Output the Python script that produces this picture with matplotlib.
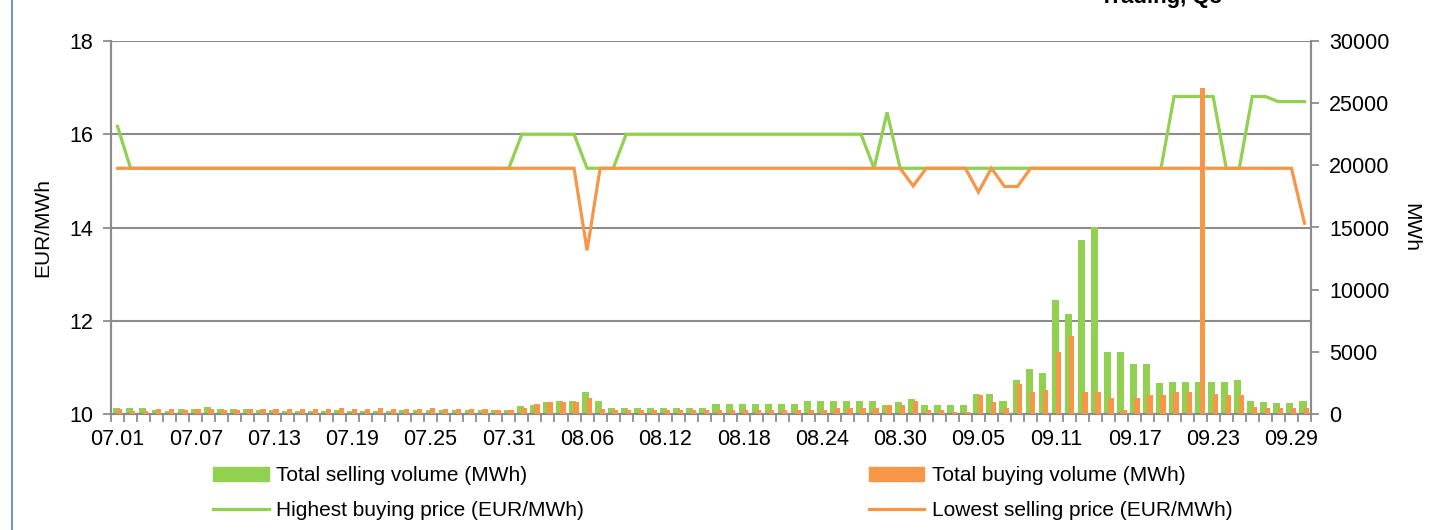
import numpy as np
import matplotlib
matplotlib.use("Agg")
import matplotlib.pyplot as plt
from matplotlib.lines import Line2D
import datetime as dt

plt.rcParams['font.family'] = ['Liberation Sans', 'DejaVu Sans']

# ---- data ----
start = dt.date(2013, 7, 1)
dates = [(start + dt.timedelta(days=i)).strftime("%m.%d") for i in range(92)]

highest_buying_price = [16.17] + [15.27] * 30 + [16.0] * 5 + [15.27] * 3 + [16.0] * 19 + \
    [15.27, 16.47] + [15.27] * 21 + [16.81] * 4 + [15.27] * 2 + [16.81] * 2 + [16.70] * 3

lowest_selling_price = [15.27] * 36 + [13.51] + [15.27] * 24 + [14.89] + [15.27] * 4 + \
    [14.76, 15.27, 14.88, 14.88] + [15.27] * 21 + [14.09]

total_selling_volume = [
    496, 496, 496, 282, 255, 415, 415, 577, 415, 415,
    389, 335, 309, 255, 255, 255, 255, 309, 255, 255,
    255, 255, 282, 282, 282, 282, 282, 282, 282, 282,
    282, 604, 738, 979, 1006, 1006, 1756, 1006, 496, 496,
    496, 496, 496, 496, 496, 496, 818, 818, 818, 818,
    818, 818, 818, 1006, 1006, 1006, 1006, 1006, 1006, 684,
    925, 1193, 684, 684, 684, 684, 1622, 1622, 1032, 2695,
    3607, 3312, 9131, 8005, 14012, 15031, 4975, 4975, 3982, 3982,
    2480, 2561, 2561, 2561, 2561, 2561, 2749, 1032, 925, 871,
    871, 1032]

total_buying_volume = [
    362, 255, 255, 389, 389, 335, 442, 389, 335, 335,
    389, 389, 442, 389, 389, 362, 389, 469, 442, 442,
    496, 415, 389, 442, 469, 362, 362, 389, 389, 335,
    335, 469, 765, 979, 979, 979, 1300, 389, 282, 282,
    282, 282, 282, 282, 282, 282, 282, 282, 282, 282,
    282, 282, 282, 282, 282, 496, 496, 496, 496, 711,
    684, 1032, 282, 282, 201, 201, 1542, 979, 496, 2427,
    1730, 1944, 4948, 6262, 1757, 1757, 1301, 282, 1247, 1542,
    1542, 1757, 1757, 26250, 1622, 1542, 1542, 523, 469, 469,
    469, 469]

left_ticks = [10, 12, 14, 16, 18]
right_ticks = [0, 5000, 10000, 15000, 20000, 25000, 30000]

GREEN = '#92D050'
ORANGE = '#F79646'
GRID = '#8C8C8C'

fig = plt.figure(figsize=(14.35, 5.30), dpi=100)
ax = fig.add_axes([111 / 1435, 1 - 414 / 530, 1200 / 1435, 373 / 530])
ax2 = ax.twinx()

x = np.arange(len(dates))

# bars on secondary axis (drawn above lines)
ax2.bar(x - 0.115, total_selling_volume, width=0.54, color=GREEN, zorder=2,
        label='Total selling volume (MWh)')
ax2.bar(x + 0.16, total_buying_volume, width=0.41, color=ORANGE, zorder=3,
        label='Total buying volume (MWh)')

ax.plot(x, highest_buying_price, color=GREEN, lw=2.3, solid_joinstyle='miter', zorder=3)
ax.plot(x, lowest_selling_price, color=ORANGE, lw=2.3, solid_joinstyle='miter', zorder=4)

ax.set_xlim(-0.5, len(dates) - 0.5)
ax.set_ylim(10, 18)
ax2.set_ylim(0, 30000)

ax.set_yticks(left_ticks)
ax.set_yticklabels([str(v) for v in left_ticks])
ax2.set_yticks(right_ticks)
ax2.set_yticklabels([str(v) for v in right_ticks])

# x ticks: marks at category boundaries, labels at every 6th category
ax.set_xticks(np.arange(-0.5, len(dates), 1.0))
ax.set_xticklabels([])
lab_idx = list(range(0, len(dates), 6))
ax.set_xticks(lab_idx, minor=True)
ax.set_xticklabels([dates[i] for i in lab_idx], minor=True)
ax.tick_params(axis='x', which='major', length=6, width=1.3, color=GRID, direction='out')
ax.tick_params(axis='x', which='minor', length=0, pad=11, labelsize=15.5)

ax.tick_params(axis='y', length=6, width=1.3, color=GRID, labelsize=15.5, pad=7)
ax2.tick_params(axis='y', length=6, width=1.3, color=GRID, labelsize=15.5, pad=7)

ax.grid(axis='y', color=GRID, lw=1.5)
ax.set_axisbelow(True)

for a in (ax, ax2):
    a.spines['top'].set_visible(False)
    for s in ('left', 'right', 'bottom'):
        a.spines[s].set_color(GRID)
        a.spines[s].set_linewidth(1.5)

ax.set_ylabel('EUR/MWh', fontsize=15, labelpad=12)
ax2.set_ylabel('MWh', fontsize=15, rotation=270, labelpad=22)

handles = [
    plt.Rectangle((0, 0), 1, 1, color=GREEN),
    Line2D([0], [0], color=GREEN, lw=2.3),
    plt.Rectangle((0, 0), 1, 1, color=ORANGE),
    Line2D([0], [0], color=ORANGE, lw=2.3),
]
labels = ['Total selling volume (MWh)', 'Highest buying price (EUR/MWh)',
          'Total buying volume (MWh)', 'Lowest selling price (EUR/MWh)']
fig.legend(handles, labels, ncol=2, loc='upper left', bbox_to_anchor=(203 / 1435, 1 - 456 / 530),
           frameon=False, fontsize=15, handlelength=2.65, handleheight=0.7,
           handletextpad=0.35, columnspacing=13.7, labelspacing=0.75, borderpad=0)

# partially visible title at the very top (cut off in the reference)
fig.text(1222 / 1435, 1 - 3 / 530, 'Trading, Q3', ha='right', va='baseline',
         fontsize=16, fontweight='bold')

# left frame border line
fig.add_artist(Line2D([12 / 1435, 12 / 1435], [0, 1], color='#4F81BD', lw=1.2,
                      transform=fig.transFigure))

fig.savefig('out.png', dpi=100)
